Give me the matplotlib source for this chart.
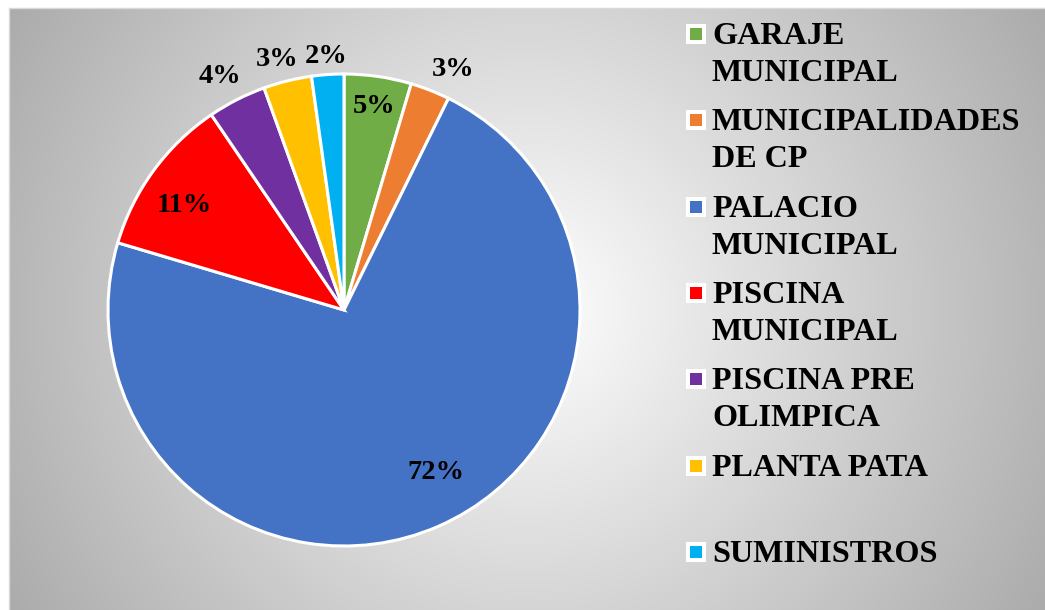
import numpy as np
import matplotlib.pyplot as plt
from matplotlib.patches import Rectangle

# Chart data
labels = ["GARAJE\nMUNICIPAL", "MUNICIPALIDADES\nDE CP", "PALACIO\nMUNICIPAL",
          "PISCINA\nMUNICIPAL", "PISCINA PRE\nOLIMPICA", "PLANTA PATA", "SUMINISTROS"]
values = [4.6, 2.7, 72.3, 10.9, 4.0, 3.3, 2.2]
colors = ["#70AD47", "#ED7D31", "#4472C4", "#FF0000", "#7030A0", "#FFC000", "#00B0F0"]

# label placement (radius factor, angle nudge in degrees)
label_r = [0.87, 1.12, 0.79, 0.81, 1.12, 1.10, 1.075]
label_nudge = [0, -3, 6, 3, 1, 1, 0]

W, H = 1045, 610
font = "Liberation Serif"

fig = plt.figure(figsize=(W / 100, H / 100), dpi=100)
ax = fig.add_axes([0, 0, 1, 1])

# pie in pixel-like coordinates (y up)
cx, cy, R = 344, H - 310, 236
wedges, _ = ax.pie(values, colors=colors, startangle=90, counterclock=False,
                   center=(cx, cy), radius=R,
                   wedgeprops=dict(edgecolor="white", linewidth=2.2, zorder=2))

# radial grey gradient background
xs = np.arange(9, W) + 0.5
ys = np.arange(0, H - 8) + 0.5
X, Y = np.meshgrid(xs, ys)
d = np.hypot(X - 527, Y - (H - 309))
g = np.clip(1 - 0.14 * d / 255, 0, 1)
ax.imshow(np.dstack([g, g, g]), extent=(9, W, 0, H - 8), origin="lower",
          zorder=0, interpolation="bilinear")
ax.add_patch(Rectangle((8.5, -1), W, H - 7.5 + 1, fill=False,
                       edgecolor="#d9d9d9", linewidth=1, zorder=1))

# percentage labels
total = sum(values)
for w, v, rf, nd in zip(wedges, values, label_r, label_nudge):
    mid = np.radians((w.theta1 + w.theta2) / 2 + nd)
    ax.text(cx + rf * R * np.cos(mid), cy + rf * R * np.sin(mid),
            f"{round(v / total * 100)}%", ha="center", va="center",
            fontsize=20.5, fontweight="bold", family=font, zorder=3)

# legend drawn by hand
for i, (lab, col) in enumerate(zip(labels, colors)):
    base = 44 + 86.3 * i
    ax.add_patch(Rectangle((686, H - base + 0), 20, 20, facecolor="white",
                           edgecolor="none", zorder=3))
    ax.add_patch(Rectangle((690, H - base + 4), 12, 12, facecolor=col,
                           edgecolor="none", zorder=4))
    for j, line in enumerate(lab.split("\n")):
        ax.text(712, H - base - 37 * j, line, ha="left", va="baseline",
                fontsize=23.1, fontweight="bold", family=font, zorder=3)

ax.set_xlim(0, W)
ax.set_ylim(0, H)
ax.set_aspect("auto")
ax.axis("off")

fig.savefig("out.png", dpi=100)
